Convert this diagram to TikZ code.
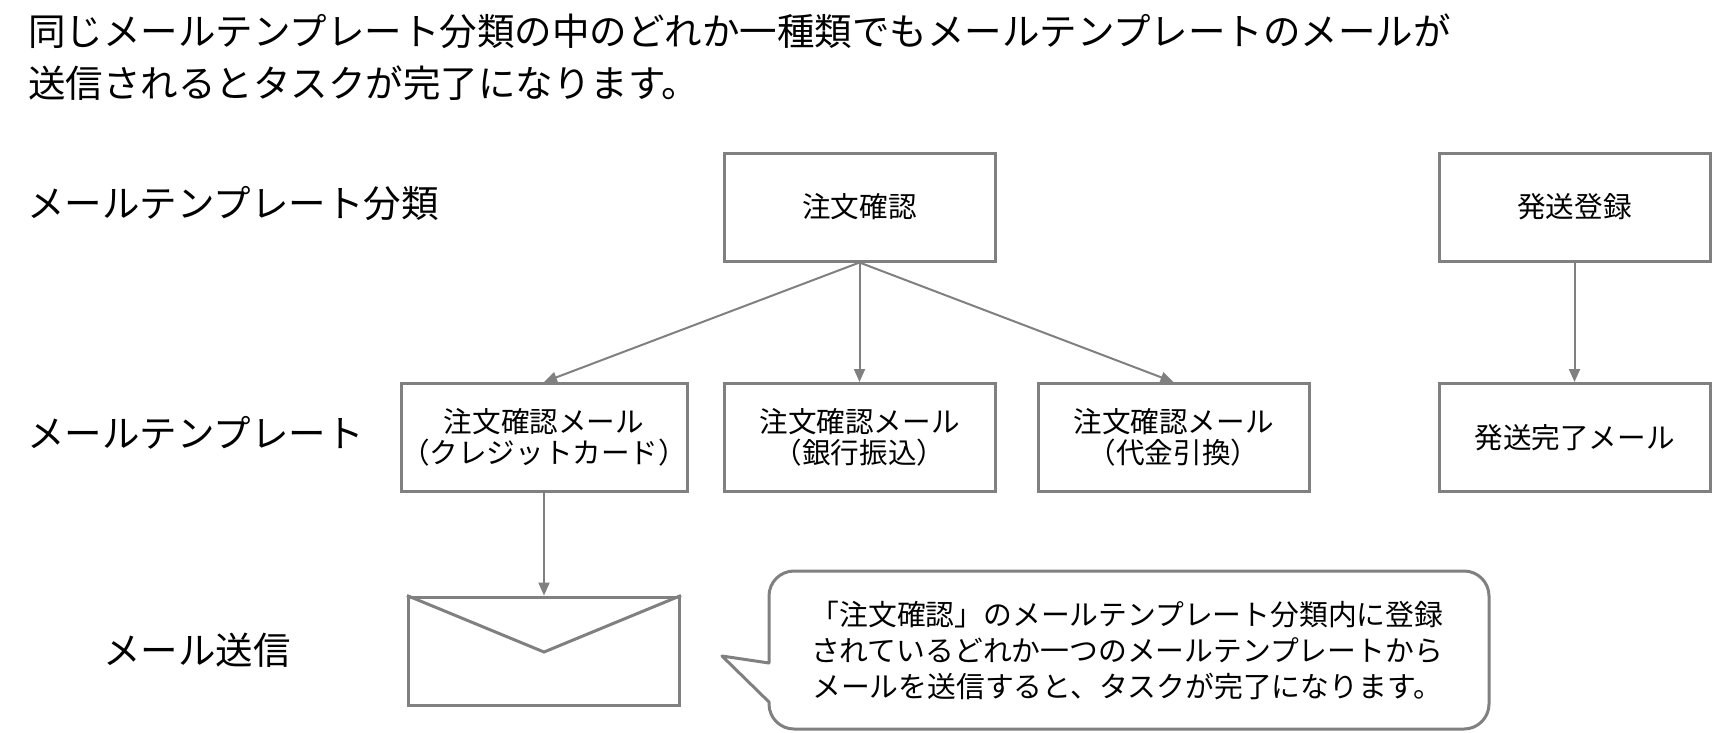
\documentclass[tikz,border=0pt]{standalone}
\usepackage{fontspec}
\setmainfont{Noto Sans CJK JP}
\usetikzlibrary{arrows.meta}
\definecolor{lg}{RGB}{128,128,128}
\begin{document}
\begin{tikzpicture}[x=1pt,y=-1pt,
  box/.style={draw=lg,line width=3pt,minimum width=271pt,minimum height=108pt,inner sep=0pt,align=center,font=\fontsize{28.6}{31}\selectfont},
  arr/.style={draw=lg,line width=2pt,-{Triangle[length=13pt,width=11pt]}},
  lbl/.style={anchor=base west,inner sep=0pt,font=\fontsize{37.5}{52}\selectfont},
  bubble/.style={draw=lg,line width=3pt,line cap=round,line join=round},
  bubtext/.style={inner sep=0pt,align=center,font=\fontsize{28.8}{36}\selectfont},
]
\useasboundingbox (0,0) rectangle (1712,732);
% title
\node[lbl] (title1) at (28,45.5) {同じメールテンプレート分類の中のどれか一種類でもメールテンプレートのメールが};
\node[lbl] (title2) at (28,97.5) {送信されるとタスクが完了になります。};
% row labels
\node[lbl] (row1) at (27,217) {メールテンプレート分類};
\node[lbl] (row2) at (27,447) {メールテンプレート};
\node[lbl] (row3) at (103,664) {メール送信};
% categories
\node[box] (cat1) at (859.5,207) {注文確認};
\node[box] (cat2) at (1574.5,207) {発送登録};
% templates
\node[box] (tA) at (544,437.5) {注文確認メール\\（クレジットカード）};
\node[box] (tB) at (859.5,437.5) {注文確認メール\\（銀行振込）};
\node[box] (tC) at (1173.5,437.5) {注文確認メール\\（代金引換）};
\node[box] (tD) at (1574.5,437.5) {発送完了メール};
% envelope
\node[box] (env) at (544,651) {};
\coordinate (envv) at (544,652);
\draw[lg,line width=3pt] (env.north west) -- (envv) -- (env.north east);
% connectors
\draw[arr] (cat1.south) -- (tA.north);
\draw[arr] (cat1.south) -- (tB.north);
\draw[arr] (cat1.south) -- (tC.north);
\draw[arr] (cat2.south) -- (tD.north);
\draw[arr] (tA.south) -- (env.north);
% speech bubble
\coordinate (tip) at (722,656);
\draw[bubble] (769,663) -- (tip) -- (769,702) [rounded corners=25] -- (769,729) -- (1489,729) -- (1489,571) -- (769,571) -- (769,663);
\node[bubtext] (note) at (1127,650.5) {「注文確認」のメールテンプレート分類内に登録\\されているどれか一つのメールテンプレートから\\メールを送信すると、タスクが完了になります。};
\end{tikzpicture}
\end{document}
